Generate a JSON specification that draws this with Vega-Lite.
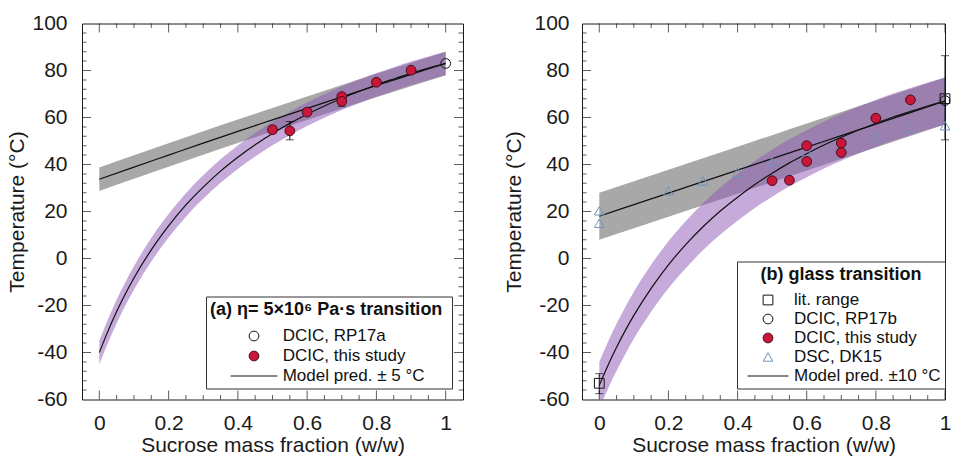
{
  "$schema": "https://vega.github.io/schema/vega-lite/v6.json",
  "background": "white",
  "padding": {"left": 5, "top": 11.5, "right": 0, "bottom": 0},
  "spacing": 39,
  "config": {
    "font": "Liberation Sans",
    "view": {"stroke": "#1a1a1a", "strokeWidth": 1},
    "axis": {"labelFont": "Liberation Sans", "titleFont": "Liberation Sans", "labelFontSize": 21, "titleFontSize": 21, "titleFontWeight": "normal", "labelColor": "#1a1a1a", "titleColor": "#1a1a1a", "domainColor": "#1a1a1a", "tickColor": "#1a1a1a", "domainWidth": 1, "labelFlush": false, "labelOverlap": false, "grid": false},
    "legend": {"labelFont": "Liberation Sans", "titleFont": "Liberation Sans", "labelColor": "#111", "titleColor": "#111", "labelLimit": 400, "titleLimit": 400}
  },
  "datasets": {
    "grayA": [
      {"x": 0, "g": 33.7, "lo": 28.7, "hi": 38.7}, {"x": 0.1, "g": 38.9, "lo": 33.9, "hi": 43.9}, {"x": 0.2, "g": 44.0, "lo": 39.0, "hi": 49.0},
      {"x": 0.3, "g": 49.1, "lo": 44.1, "hi": 54.1}, {"x": 0.4, "g": 54.1, "lo": 49.1, "hi": 59.1}, {"x": 0.5, "g": 59.0, "lo": 54.0, "hi": 64.0},
      {"x": 0.6, "g": 63.9, "lo": 58.9, "hi": 68.9}, {"x": 0.7, "g": 68.8, "lo": 63.8, "hi": 73.8}, {"x": 0.8, "g": 73.6, "lo": 68.6, "hi": 78.6},
      {"x": 0.9, "g": 78.3, "lo": 73.3, "hi": 83.3}, {"x": 1, "g": 83.0, "lo": 78.0, "hi": 88.0}
    ],
    "purpA": [
      {"x": 0, "p": -40, "lo": -45, "hi": -35}, {"x": 0.025, "p": -30.9, "lo": -35.9, "hi": -25.9}, {"x": 0.05, "p": -22.6, "lo": -27.6, "hi": -17.6},
      {"x": 0.075, "p": -15.1, "lo": -20.1, "hi": -10.1}, {"x": 0.1, "p": -8.3, "lo": -13.3, "hi": -3.3}, {"x": 0.15, "p": 3.7, "lo": -1.3, "hi": 8.7},
      {"x": 0.2, "p": 13.9, "lo": 8.9, "hi": 18.9}, {"x": 0.25, "p": 22.8, "lo": 17.8, "hi": 27.8}, {"x": 0.3, "p": 30.4, "lo": 25.4, "hi": 35.4},
      {"x": 0.35, "p": 37.2, "lo": 32.2, "hi": 42.2}, {"x": 0.4, "p": 43.1, "lo": 38.1, "hi": 48.1}, {"x": 0.45, "p": 48.4, "lo": 43.4, "hi": 53.4},
      {"x": 0.5, "p": 53.2, "lo": 48.2, "hi": 58.2}, {"x": 0.55, "p": 57.5, "lo": 52.5, "hi": 62.5}, {"x": 0.6, "p": 61.4, "lo": 56.4, "hi": 66.4},
      {"x": 0.65, "p": 64.9, "lo": 59.9, "hi": 69.9}, {"x": 0.7, "p": 68.2, "lo": 63.2, "hi": 73.2}, {"x": 0.75, "p": 71.1, "lo": 66.1, "hi": 76.1},
      {"x": 0.8, "p": 73.9, "lo": 68.9, "hi": 78.9}, {"x": 0.85, "p": 76.4, "lo": 71.4, "hi": 81.4}, {"x": 0.9, "p": 78.8, "lo": 73.8, "hi": 83.8},
      {"x": 0.95, "p": 81.0, "lo": 76.0, "hi": 86.0}, {"x": 1, "p": 83.0, "lo": 78.0, "hi": 88.0}
    ],
    "ptsA": [
      {"x": 1, "y": 83, "s": "DCIC, RP17a"},
      {"x": 0.5, "y": 54.8, "s": "DCIC, this study"}, {"x": 0.55, "y": 54.3, "s": "DCIC, this study"},
      {"x": 0.6, "y": 62.3, "s": "DCIC, this study"}, {"x": 0.7, "y": 68.9, "s": "DCIC, this study"},
      {"x": 0.7, "y": 66.9, "s": "DCIC, this study"}, {"x": 0.8, "y": 75.0, "s": "DCIC, this study"},
      {"x": 0.9, "y": 80.1, "s": "DCIC, this study"}
    ],
    "errA": [
      {"x": 0.5, "lo": 53.3, "hi": 56.3}, {"x": 0.55, "lo": 50.5, "hi": 58.3},
      {"x": 0.6, "lo": 61.0, "hi": 63.6}, {"x": 0.7, "lo": 64.8, "hi": 70.2}
    ],
    "grayB": [
      {"x": 0, "g": 18, "lo": 8, "hi": 28}, {"x": 0.1, "g": 22.9, "lo": 12.9, "hi": 32.9}, {"x": 0.2, "g": 27.8, "lo": 17.8, "hi": 37.8},
      {"x": 0.3, "g": 32.7, "lo": 22.7, "hi": 42.7}, {"x": 0.4, "g": 37.6, "lo": 27.6, "hi": 47.6}, {"x": 0.5, "g": 42.5, "lo": 32.5, "hi": 52.5},
      {"x": 0.6, "g": 47.4, "lo": 37.4, "hi": 57.4}, {"x": 0.7, "g": 52.3, "lo": 42.3, "hi": 62.3}, {"x": 0.8, "g": 57.2, "lo": 47.2, "hi": 67.2},
      {"x": 0.9, "g": 62.1, "lo": 52.1, "hi": 72.1}, {"x": 1, "g": 67, "lo": 57, "hi": 77}
    ],
    "purpB": [
      {"x": 0, "p": -54, "lo": -64, "hi": -44}, {"x": 0.025, "p": -45.5, "lo": -55.5, "hi": -35.5}, {"x": 0.05, "p": -37.8, "lo": -47.8, "hi": -27.8},
      {"x": 0.075, "p": -30.7, "lo": -40.7, "hi": -20.7}, {"x": 0.1, "p": -24.2, "lo": -34.2, "hi": -14.2}, {"x": 0.15, "p": -12.7, "lo": -22.7, "hi": -2.7},
      {"x": 0.2, "p": -2.7, "lo": -12.7, "hi": 7.3}, {"x": 0.25, "p": 5.9, "lo": -4.1, "hi": 15.9}, {"x": 0.3, "p": 13.5, "lo": 3.5, "hi": 23.5},
      {"x": 0.35, "p": 20.2, "lo": 10.2, "hi": 30.2}, {"x": 0.4, "p": 26.1, "lo": 16.1, "hi": 36.1}, {"x": 0.45, "p": 31.5, "lo": 21.5, "hi": 41.5},
      {"x": 0.5, "p": 36.3, "lo": 26.3, "hi": 46.3}, {"x": 0.55, "p": 40.7, "lo": 30.7, "hi": 50.7}, {"x": 0.6, "p": 44.6, "lo": 34.6, "hi": 54.6},
      {"x": 0.65, "p": 48.3, "lo": 38.3, "hi": 58.3}, {"x": 0.7, "p": 51.6, "lo": 41.6, "hi": 61.6}, {"x": 0.75, "p": 54.7, "lo": 44.7, "hi": 64.7},
      {"x": 0.8, "p": 57.5, "lo": 47.5, "hi": 67.5}, {"x": 0.85, "p": 60.2, "lo": 50.2, "hi": 70.2}, {"x": 0.9, "p": 62.6, "lo": 52.6, "hi": 72.6},
      {"x": 0.95, "p": 64.9, "lo": 54.9, "hi": 74.9}, {"x": 1, "p": 67, "lo": 57, "hi": 77}
    ],
    "ptsB": [
      {"x": 0, "y": 20.3, "s": "DSC, DK15"}, {"x": 0, "y": 15.0, "s": "DSC, DK15"}, {"x": 0.2, "y": 28.8, "s": "DSC, DK15"},
      {"x": 0.3, "y": 33.0, "s": "DSC, DK15"}, {"x": 0.4, "y": 36.7, "s": "DSC, DK15"}, {"x": 0.5, "y": 41.3, "s": "DSC, DK15"},
      {"x": 0.6, "y": 45.5, "s": "DSC, DK15"}, {"x": 0.7, "y": 48.1, "s": "DSC, DK15"}, {"x": 0.8, "y": 51.5, "s": "DSC, DK15"},
      {"x": 0.9, "y": 55.5, "s": "DSC, DK15"}, {"x": 1, "y": 56.5, "s": "DSC, DK15"},
      {"x": 0, "y": -53.1, "s": "lit. range"}, {"x": 1, "y": 68.0, "s": "lit. range"},
      {"x": 1, "y": 67.2, "s": "DCIC, RP17b"},
      {"x": 0.5, "y": 33.1, "s": "DCIC, this study"}, {"x": 0.55, "y": 33.3, "s": "DCIC, this study"},
      {"x": 0.6, "y": 48.0, "s": "DCIC, this study"}, {"x": 0.6, "y": 41.3, "s": "DCIC, this study"},
      {"x": 0.7, "y": 49.1, "s": "DCIC, this study"}, {"x": 0.7, "y": 45.1, "s": "DCIC, this study"},
      {"x": 0.8, "y": 59.7, "s": "DCIC, this study"}, {"x": 0.9, "y": 67.5, "s": "DCIC, this study"}
    ],
    "errB": [
      {"x": 0, "lo": -57.5, "hi": -49}, {"x": 1, "lo": 50.5, "hi": 86.3}
    ],
    "tx": [
      {"v": 0, "k": "M"}, {"v": 0.05, "k": "m"}, {"v": 0.1, "k": "m"}, {"v": 0.15, "k": "m"}, {"v": 0.2, "k": "M"},
      {"v": 0.25, "k": "m"}, {"v": 0.3, "k": "m"}, {"v": 0.35, "k": "m"}, {"v": 0.4, "k": "M"}, {"v": 0.45, "k": "m"},
      {"v": 0.5, "k": "m"}, {"v": 0.55, "k": "m"}, {"v": 0.6, "k": "M"}, {"v": 0.65, "k": "m"}, {"v": 0.7, "k": "m"},
      {"v": 0.75, "k": "m"}, {"v": 0.8, "k": "M"}, {"v": 0.85, "k": "m"}, {"v": 0.9, "k": "m"}, {"v": 0.95, "k": "m"}, {"v": 1, "k": "M"}
    ],
    "ty": [
      {"v": -56, "k": "m"}, {"v": -52, "k": "m"}, {"v": -48, "k": "m"}, {"v": -44, "k": "m"}, {"v": -40, "k": "M"},
      {"v": -36, "k": "m"}, {"v": -32, "k": "m"}, {"v": -28, "k": "m"}, {"v": -24, "k": "m"}, {"v": -20, "k": "M"},
      {"v": -16, "k": "m"}, {"v": -12, "k": "m"}, {"v": -8, "k": "m"}, {"v": -4, "k": "m"}, {"v": 0, "k": "M"},
      {"v": 4, "k": "m"}, {"v": 8, "k": "m"}, {"v": 12, "k": "m"}, {"v": 16, "k": "m"}, {"v": 20, "k": "M"},
      {"v": 24, "k": "m"}, {"v": 28, "k": "m"}, {"v": 32, "k": "m"}, {"v": 36, "k": "m"}, {"v": 40, "k": "M"},
      {"v": 44, "k": "m"}, {"v": 48, "k": "m"}, {"v": 52, "k": "m"}, {"v": 56, "k": "m"}, {"v": 60, "k": "M"},
      {"v": 64, "k": "m"}, {"v": 68, "k": "m"}, {"v": 72, "k": "m"}, {"v": 76, "k": "m"}, {"v": 80, "k": "M"},
      {"v": 84, "k": "m"}, {"v": 88, "k": "m"}, {"v": 92, "k": "m"}, {"v": 96, "k": "m"}
    ]
  },
  "resolve": {
    "scale": {"x": "independent", "y": "independent", "shape": "independent", "fill": "independent", "stroke": "independent"},
    "legend": {"shape": "independent", "fill": "independent", "stroke": "independent"}
  },
  "hconcat": [
    {
      "width": 381, "height": 376,
      "layer": [
        {
          "data": {"name": "grayA"},
          "mark": {"type": "area", "color": "#a8a8a8", "opacity": 1, "clip": true, "interpolate": "monotone"},
          "encoding": {
            "x": {"field": "x", "type": "quantitative", "scale": {"domain": [-0.05, 1.05], "nice": false, "zero": false}, "axis": {"orient": "bottom", "values": [0, 0.2, 0.4, 0.6, 0.8, 1], "labelExpr": "'' + datum.value", "ticks": false, "domain": false, "grid": false, "labelPadding": 13, "title": "Sucrose mass fraction (w/w)", "titlePadding": 1}},
            "y": {"field": "lo", "type": "quantitative", "scale": {"domain": [-60, 100], "nice": false, "zero": false}, "axis": {"orient": "left", "values": [-60, -40, -20, 0, 20, 40, 60, 80, 100], "labelExpr": "'' + datum.value", "ticks": false, "domain": false, "grid": false, "labelPadding": 15, "title": "Temperature (°C)", "titlePadding": 4.7}},
            "y2": {"field": "hi"}
          }
        },
        {
          "data": {"name": "purpA"},
          "mark": {"type": "area", "color": "#8b55b5", "opacity": 0.5, "clip": true, "interpolate": "monotone"},
          "encoding": {
            "x": {"field": "x", "type": "quantitative", "scale": {"domain": [-0.05, 1.05], "nice": false, "zero": false}, "axis": {"orient": "bottom", "values": [0, 0.2, 0.4, 0.6, 0.8, 1], "labelExpr": "'' + datum.value", "ticks": false, "domain": false, "grid": false, "labelPadding": 13, "title": "Sucrose mass fraction (w/w)", "titlePadding": 1}},
            "y": {"field": "lo", "type": "quantitative", "scale": {"domain": [-60, 100], "nice": false, "zero": false}, "axis": {"orient": "left", "values": [-60, -40, -20, 0, 20, 40, 60, 80, 100], "labelExpr": "'' + datum.value", "ticks": false, "domain": false, "grid": false, "labelPadding": 15, "title": "Temperature (°C)", "titlePadding": 4.7}},
            "y2": {"field": "hi"}
          }
        },
        {
          "data": {"name": "grayA"},
          "mark": {"type": "line", "color": "#111", "strokeWidth": 1.2, "clip": true, "interpolate": "monotone"},
          "encoding": {
            "x": {"field": "x", "type": "quantitative", "scale": {"domain": [-0.05, 1.05], "nice": false, "zero": false}, "axis": {"orient": "bottom", "values": [0, 0.2, 0.4, 0.6, 0.8, 1], "labelExpr": "'' + datum.value", "ticks": false, "domain": false, "grid": false, "labelPadding": 13, "title": "Sucrose mass fraction (w/w)", "titlePadding": 1}},
            "y": {"field": "g", "type": "quantitative", "scale": {"domain": [-60, 100], "nice": false, "zero": false}, "axis": {"orient": "left", "values": [-60, -40, -20, 0, 20, 40, 60, 80, 100], "labelExpr": "'' + datum.value", "ticks": false, "domain": false, "grid": false, "labelPadding": 15, "title": "Temperature (°C)", "titlePadding": 4.7}}
          }
        },
        {
          "data": {"name": "purpA"},
          "mark": {"type": "line", "color": "#111", "strokeWidth": 1.2, "clip": true, "interpolate": "monotone"},
          "encoding": {
            "x": {"field": "x", "type": "quantitative", "scale": {"domain": [-0.05, 1.05], "nice": false, "zero": false}, "axis": {"orient": "bottom", "values": [0, 0.2, 0.4, 0.6, 0.8, 1], "labelExpr": "'' + datum.value", "ticks": false, "domain": false, "grid": false, "labelPadding": 13, "title": "Sucrose mass fraction (w/w)", "titlePadding": 1}},
            "y": {"field": "p", "type": "quantitative", "scale": {"domain": [-60, 100], "nice": false, "zero": false}, "axis": {"orient": "left", "values": [-60, -40, -20, 0, 20, 40, 60, 80, 100], "labelExpr": "'' + datum.value", "ticks": false, "domain": false, "grid": false, "labelPadding": 15, "title": "Temperature (°C)", "titlePadding": 4.7}}
          }
        },
        {
          "data": {"name": "tx"},
          "mark": {"type": "tick", "orient": "vertical", "thickness": 1, "color": "#1a1a1a", "clip": true},
          "encoding": {
            "x": {"field": "v", "type": "quantitative", "scale": {"domain": [-0.05, 1.05], "nice": false, "zero": false}, "axis": {"orient": "bottom", "values": [0, 0.2, 0.4, 0.6, 0.8, 1], "labelExpr": "'' + datum.value", "ticks": false, "domain": false, "grid": false, "labelPadding": 13, "title": "Sucrose mass fraction (w/w)", "titlePadding": 1}},
            "y": {"datum": -60, "type": "quantitative", "scale": {"domain": [-60, 100], "nice": false, "zero": false}, "axis": {"orient": "left", "values": [-60, -40, -20, 0, 20, 40, 60, 80, 100], "labelExpr": "'' + datum.value", "ticks": false, "domain": false, "grid": false, "labelPadding": 15, "title": "Temperature (°C)", "titlePadding": 4.7}},
            "size": {"field": "k", "type": "ordinal", "scale": {"domain": ["M", "m"], "range": [18, 9]}, "legend": null}
          }
        },
        {
          "data": {"name": "tx"},
          "mark": {"type": "tick", "orient": "vertical", "thickness": 1, "color": "#1a1a1a", "clip": true},
          "encoding": {
            "x": {"field": "v", "type": "quantitative", "scale": {"domain": [-0.05, 1.05], "nice": false, "zero": false}, "axis": {"orient": "bottom", "values": [0, 0.2, 0.4, 0.6, 0.8, 1], "labelExpr": "'' + datum.value", "ticks": false, "domain": false, "grid": false, "labelPadding": 13, "title": "Sucrose mass fraction (w/w)", "titlePadding": 1}},
            "y": {"datum": 100, "type": "quantitative", "scale": {"domain": [-60, 100], "nice": false, "zero": false}, "axis": {"orient": "left", "values": [-60, -40, -20, 0, 20, 40, 60, 80, 100], "labelExpr": "'' + datum.value", "ticks": false, "domain": false, "grid": false, "labelPadding": 15, "title": "Temperature (°C)", "titlePadding": 4.7}},
            "size": {"field": "k", "type": "ordinal", "scale": {"domain": ["M", "m"], "range": [18, 9]}, "legend": null}
          }
        },
        {
          "data": {"name": "ty"},
          "mark": {"type": "tick", "orient": "horizontal", "thickness": 1, "color": "#1a1a1a", "clip": true},
          "encoding": {
            "x": {"datum": -0.05, "type": "quantitative", "scale": {"domain": [-0.05, 1.05], "nice": false, "zero": false}, "axis": {"orient": "bottom", "values": [0, 0.2, 0.4, 0.6, 0.8, 1], "labelExpr": "'' + datum.value", "ticks": false, "domain": false, "grid": false, "labelPadding": 13, "title": "Sucrose mass fraction (w/w)", "titlePadding": 1}},
            "y": {"field": "v", "type": "quantitative", "scale": {"domain": [-60, 100], "nice": false, "zero": false}, "axis": {"orient": "left", "values": [-60, -40, -20, 0, 20, 40, 60, 80, 100], "labelExpr": "'' + datum.value", "ticks": false, "domain": false, "grid": false, "labelPadding": 15, "title": "Temperature (°C)", "titlePadding": 4.7}},
            "size": {"field": "k", "type": "ordinal", "scale": {"domain": ["M", "m"], "range": [18, 9]}, "legend": null}
          }
        },
        {
          "data": {"name": "ty"},
          "mark": {"type": "tick", "orient": "horizontal", "thickness": 1, "color": "#1a1a1a", "clip": true},
          "encoding": {
            "x": {"datum": 1.05, "type": "quantitative", "scale": {"domain": [-0.05, 1.05], "nice": false, "zero": false}, "axis": {"orient": "bottom", "values": [0, 0.2, 0.4, 0.6, 0.8, 1], "labelExpr": "'' + datum.value", "ticks": false, "domain": false, "grid": false, "labelPadding": 13, "title": "Sucrose mass fraction (w/w)", "titlePadding": 1}},
            "y": {"field": "v", "type": "quantitative", "scale": {"domain": [-60, 100], "nice": false, "zero": false}, "axis": {"orient": "left", "values": [-60, -40, -20, 0, 20, 40, 60, 80, 100], "labelExpr": "'' + datum.value", "ticks": false, "domain": false, "grid": false, "labelPadding": 15, "title": "Temperature (°C)", "titlePadding": 4.7}},
            "size": {"field": "k", "type": "ordinal", "scale": {"domain": ["M", "m"], "range": [18, 9]}, "legend": null}
          }
        },
        {
          "data": {"name": "errA"},
          "mark": {"type": "errorbar", "ticks": {"size": 8, "color": "#111"}, "rule": {"color": "#111"}, "thickness": 1},
          "encoding": {
            "x": {"field": "x", "type": "quantitative", "scale": {"domain": [-0.05, 1.05], "nice": false, "zero": false}, "axis": {"orient": "bottom", "values": [0, 0.2, 0.4, 0.6, 0.8, 1], "labelExpr": "'' + datum.value", "ticks": false, "domain": false, "grid": false, "labelPadding": 13, "title": "Sucrose mass fraction (w/w)", "titlePadding": 1}},
            "y": {"field": "lo", "type": "quantitative", "scale": {"domain": [-60, 100], "nice": false, "zero": false}, "axis": {"orient": "left", "values": [-60, -40, -20, 0, 20, 40, 60, 80, 100], "labelExpr": "'' + datum.value", "ticks": false, "domain": false, "grid": false, "labelPadding": 15, "title": "Temperature (°C)", "titlePadding": 4.7}},
            "y2": {"field": "hi"}
          }
        },
        {
          "data": {"name": "ptsA"},
          "mark": {"type": "point", "filled": true, "size": 95, "strokeWidth": 1, "opacity": 1},
          "encoding": {
            "x": {"field": "x", "type": "quantitative", "scale": {"domain": [-0.05, 1.05], "nice": false, "zero": false}, "axis": {"orient": "bottom", "values": [0, 0.2, 0.4, 0.6, 0.8, 1], "labelExpr": "'' + datum.value", "ticks": false, "domain": false, "grid": false, "labelPadding": 13, "title": "Sucrose mass fraction (w/w)", "titlePadding": 1}},
            "y": {"field": "y", "type": "quantitative", "scale": {"domain": [-60, 100], "nice": false, "zero": false}, "axis": {"orient": "left", "values": [-60, -40, -20, 0, 20, 40, 60, 80, 100], "labelExpr": "'' + datum.value", "ticks": false, "domain": false, "grid": false, "labelPadding": 15, "title": "Temperature (°C)", "titlePadding": 4.7}},
            "shape": {"field": "s", "type": "nominal",
                      "scale": {"domain": ["DCIC, RP17a", "DCIC, this study", "Model pred. ± 5 °C"], "range": ["circle", "circle", "M-4.8,0H4.8"]},
                      "legend": {"orient": "none", "legendX": 124, "legendY": 273, "title": "(a)  η= 5×10⁶ Pa·s transition", "titleFontSize": 18, "titleFontWeight": "bold", "titleAnchor": "start", "titlePadding": 9, "labelFontSize": 17, "symbolOffset": 35.5, "labelOffset": 20.2, "rowPadding": 2, "padding": 4, "strokeColor": "#333", "fillColor": "white", "symbolSize": 95, "symbolStrokeWidth": 1}},
            "fill": {"field": "s", "type": "nominal",
                     "scale": {"domain": ["DCIC, RP17a", "DCIC, this study", "Model pred. ± 5 °C"], "range": ["transparent", "#c8173a", "transparent"]}},
            "stroke": {"field": "s", "type": "nominal",
                       "scale": {"domain": ["DCIC, RP17a", "DCIC, this study", "Model pred. ± 5 °C"], "range": ["#111", "#4a0d18", "#111"]}}
          }
        }
      ]
    },
    {
      "width": 363, "height": 376,
      "layer": [
        {
          "data": {"name": "grayB"},
          "mark": {"type": "area", "color": "#a8a8a8", "opacity": 1, "clip": true, "interpolate": "monotone"},
          "encoding": {
            "x": {"field": "x", "type": "quantitative", "scale": {"domain": [-0.05, 1.0], "nice": false, "zero": false}, "axis": {"orient": "bottom", "values": [0, 0.2, 0.4, 0.6, 0.8, 1], "labelExpr": "'' + datum.value", "ticks": false, "domain": false, "grid": false, "labelPadding": 13, "title": "Sucrose mass fraction (w/w)", "titlePadding": 1}},
            "y": {"field": "lo", "type": "quantitative", "scale": {"domain": [-60, 100], "nice": false, "zero": false}, "axis": {"orient": "left", "values": [-60, -40, -20, 0, 20, 40, 60, 80, 100], "labelExpr": "'' + datum.value", "ticks": false, "domain": false, "grid": false, "labelPadding": 13, "title": "Temperature (°C)", "titlePadding": 9}},
            "y2": {"field": "hi"}
          }
        },
        {
          "data": {"name": "purpB"},
          "mark": {"type": "area", "color": "#8b55b5", "opacity": 0.5, "clip": true, "interpolate": "monotone"},
          "encoding": {
            "x": {"field": "x", "type": "quantitative", "scale": {"domain": [-0.05, 1.0], "nice": false, "zero": false}, "axis": {"orient": "bottom", "values": [0, 0.2, 0.4, 0.6, 0.8, 1], "labelExpr": "'' + datum.value", "ticks": false, "domain": false, "grid": false, "labelPadding": 13, "title": "Sucrose mass fraction (w/w)", "titlePadding": 1}},
            "y": {"field": "lo", "type": "quantitative", "scale": {"domain": [-60, 100], "nice": false, "zero": false}, "axis": {"orient": "left", "values": [-60, -40, -20, 0, 20, 40, 60, 80, 100], "labelExpr": "'' + datum.value", "ticks": false, "domain": false, "grid": false, "labelPadding": 13, "title": "Temperature (°C)", "titlePadding": 9}},
            "y2": {"field": "hi"}
          }
        },
        {
          "data": {"name": "grayB"},
          "mark": {"type": "line", "color": "#111", "strokeWidth": 1.2, "clip": true, "interpolate": "monotone"},
          "encoding": {
            "x": {"field": "x", "type": "quantitative", "scale": {"domain": [-0.05, 1.0], "nice": false, "zero": false}, "axis": {"orient": "bottom", "values": [0, 0.2, 0.4, 0.6, 0.8, 1], "labelExpr": "'' + datum.value", "ticks": false, "domain": false, "grid": false, "labelPadding": 13, "title": "Sucrose mass fraction (w/w)", "titlePadding": 1}},
            "y": {"field": "g", "type": "quantitative", "scale": {"domain": [-60, 100], "nice": false, "zero": false}, "axis": {"orient": "left", "values": [-60, -40, -20, 0, 20, 40, 60, 80, 100], "labelExpr": "'' + datum.value", "ticks": false, "domain": false, "grid": false, "labelPadding": 13, "title": "Temperature (°C)", "titlePadding": 9}}
          }
        },
        {
          "data": {"name": "purpB"},
          "mark": {"type": "line", "color": "#111", "strokeWidth": 1.2, "clip": true, "interpolate": "monotone"},
          "encoding": {
            "x": {"field": "x", "type": "quantitative", "scale": {"domain": [-0.05, 1.0], "nice": false, "zero": false}, "axis": {"orient": "bottom", "values": [0, 0.2, 0.4, 0.6, 0.8, 1], "labelExpr": "'' + datum.value", "ticks": false, "domain": false, "grid": false, "labelPadding": 13, "title": "Sucrose mass fraction (w/w)", "titlePadding": 1}},
            "y": {"field": "p", "type": "quantitative", "scale": {"domain": [-60, 100], "nice": false, "zero": false}, "axis": {"orient": "left", "values": [-60, -40, -20, 0, 20, 40, 60, 80, 100], "labelExpr": "'' + datum.value", "ticks": false, "domain": false, "grid": false, "labelPadding": 13, "title": "Temperature (°C)", "titlePadding": 9}}
          }
        },
        {
          "data": {"name": "tx"},
          "mark": {"type": "tick", "orient": "vertical", "thickness": 1, "color": "#1a1a1a", "clip": true},
          "encoding": {
            "x": {"field": "v", "type": "quantitative", "scale": {"domain": [-0.05, 1.0], "nice": false, "zero": false}, "axis": {"orient": "bottom", "values": [0, 0.2, 0.4, 0.6, 0.8, 1], "labelExpr": "'' + datum.value", "ticks": false, "domain": false, "grid": false, "labelPadding": 13, "title": "Sucrose mass fraction (w/w)", "titlePadding": 1}},
            "y": {"datum": -60, "type": "quantitative", "scale": {"domain": [-60, 100], "nice": false, "zero": false}, "axis": {"orient": "left", "values": [-60, -40, -20, 0, 20, 40, 60, 80, 100], "labelExpr": "'' + datum.value", "ticks": false, "domain": false, "grid": false, "labelPadding": 13, "title": "Temperature (°C)", "titlePadding": 9}},
            "size": {"field": "k", "type": "ordinal", "scale": {"domain": ["M", "m"], "range": [18, 9]}, "legend": null}
          }
        },
        {
          "data": {"name": "tx"},
          "mark": {"type": "tick", "orient": "vertical", "thickness": 1, "color": "#1a1a1a", "clip": true},
          "encoding": {
            "x": {"field": "v", "type": "quantitative", "scale": {"domain": [-0.05, 1.0], "nice": false, "zero": false}, "axis": {"orient": "bottom", "values": [0, 0.2, 0.4, 0.6, 0.8, 1], "labelExpr": "'' + datum.value", "ticks": false, "domain": false, "grid": false, "labelPadding": 13, "title": "Sucrose mass fraction (w/w)", "titlePadding": 1}},
            "y": {"datum": 100, "type": "quantitative", "scale": {"domain": [-60, 100], "nice": false, "zero": false}, "axis": {"orient": "left", "values": [-60, -40, -20, 0, 20, 40, 60, 80, 100], "labelExpr": "'' + datum.value", "ticks": false, "domain": false, "grid": false, "labelPadding": 13, "title": "Temperature (°C)", "titlePadding": 9}},
            "size": {"field": "k", "type": "ordinal", "scale": {"domain": ["M", "m"], "range": [18, 9]}, "legend": null}
          }
        },
        {
          "data": {"name": "ty"},
          "mark": {"type": "tick", "orient": "horizontal", "thickness": 1, "color": "#1a1a1a", "clip": true},
          "encoding": {
            "x": {"datum": -0.05, "type": "quantitative", "scale": {"domain": [-0.05, 1.0], "nice": false, "zero": false}, "axis": {"orient": "bottom", "values": [0, 0.2, 0.4, 0.6, 0.8, 1], "labelExpr": "'' + datum.value", "ticks": false, "domain": false, "grid": false, "labelPadding": 13, "title": "Sucrose mass fraction (w/w)", "titlePadding": 1}},
            "y": {"field": "v", "type": "quantitative", "scale": {"domain": [-60, 100], "nice": false, "zero": false}, "axis": {"orient": "left", "values": [-60, -40, -20, 0, 20, 40, 60, 80, 100], "labelExpr": "'' + datum.value", "ticks": false, "domain": false, "grid": false, "labelPadding": 13, "title": "Temperature (°C)", "titlePadding": 9}},
            "size": {"field": "k", "type": "ordinal", "scale": {"domain": ["M", "m"], "range": [18, 9]}, "legend": null}
          }
        },
        {
          "data": {"name": "errB"},
          "mark": {"type": "errorbar", "ticks": {"size": 8, "color": "#111"}, "rule": {"color": "#111"}, "thickness": 1},
          "encoding": {
            "x": {"field": "x", "type": "quantitative", "scale": {"domain": [-0.05, 1.0], "nice": false, "zero": false}, "axis": {"orient": "bottom", "values": [0, 0.2, 0.4, 0.6, 0.8, 1], "labelExpr": "'' + datum.value", "ticks": false, "domain": false, "grid": false, "labelPadding": 13, "title": "Sucrose mass fraction (w/w)", "titlePadding": 1}},
            "y": {"field": "lo", "type": "quantitative", "scale": {"domain": [-60, 100], "nice": false, "zero": false}, "axis": {"orient": "left", "values": [-60, -40, -20, 0, 20, 40, 60, 80, 100], "labelExpr": "'' + datum.value", "ticks": false, "domain": false, "grid": false, "labelPadding": 13, "title": "Temperature (°C)", "titlePadding": 9}},
            "y2": {"field": "hi"}
          }
        },
        {
          "data": {"name": "ptsB"},
          "mark": {"type": "point", "filled": true, "size": 95, "strokeWidth": 1, "opacity": 1},
          "encoding": {
            "x": {"field": "x", "type": "quantitative", "scale": {"domain": [-0.05, 1.0], "nice": false, "zero": false}, "axis": {"orient": "bottom", "values": [0, 0.2, 0.4, 0.6, 0.8, 1], "labelExpr": "'' + datum.value", "ticks": false, "domain": false, "grid": false, "labelPadding": 13, "title": "Sucrose mass fraction (w/w)", "titlePadding": 1}},
            "y": {"field": "y", "type": "quantitative", "scale": {"domain": [-60, 100], "nice": false, "zero": false}, "axis": {"orient": "left", "values": [-60, -40, -20, 0, 20, 40, 60, 80, 100], "labelExpr": "'' + datum.value", "ticks": false, "domain": false, "grid": false, "labelPadding": 13, "title": "Temperature (°C)", "titlePadding": 9}},
            "shape": {"field": "s", "type": "nominal",
                      "scale": {"domain": ["lit. range", "DCIC, RP17b", "DCIC, this study", "DSC, DK15", "Model pred. ±10 °C"], "range": ["square", "circle", "circle", "triangle-up", "M-4.2,0H4.2"]},
                      "legend": {"orient": "none", "legendX": 155, "legendY": 238, "title": "(b) glass transition", "titleFontSize": 18, "titleFontWeight": "bold", "titleAnchor": "middle", "titlePadding": 8, "labelFontSize": 17, "symbolOffset": 18.5, "labelOffset": 17.5, "rowPadding": 1, "padding": 4, "strokeColor": "#333", "fillColor": "white", "symbolSize": 95, "symbolStrokeWidth": 1}},
            "fill": {"field": "s", "type": "nominal",
                     "scale": {"domain": ["lit. range", "DCIC, RP17b", "DCIC, this study", "DSC, DK15", "Model pred. ±10 °C"], "range": ["transparent", "transparent", "#c8173a", "transparent", "transparent"]}},
            "stroke": {"field": "s", "type": "nominal",
                       "scale": {"domain": ["lit. range", "DCIC, RP17b", "DCIC, this study", "DSC, DK15", "Model pred. ±10 °C"], "range": ["#111", "#111", "#4a0d18", "#7592b8", "#111"]}}
          }
        }
      ]
    }
  ]
}
